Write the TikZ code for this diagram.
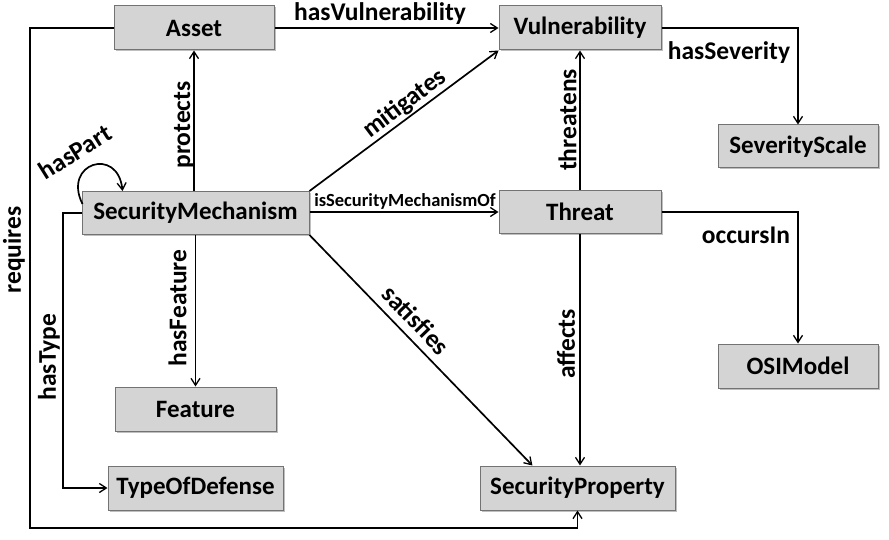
\documentclass[tikz,border=0pt]{standalone}
\usepackage{fontspec}
\setmainfont{Carlito}
\usetikzlibrary{arrows.meta,calc,shadows}
\tikzset{
  box/.style={draw={rgb,255:red,115;green,115;blue,115}, line width=1pt, fill={rgb,255:red,212;green,212;blue,212},
    inner sep=0pt, font=\fontsize{25}{28}\selectfont\bfseries,
    drop shadow={shadow xshift=1.5pt, shadow yshift=-1.5pt, fill=black, opacity=0.25}},
  lbl/.style={font=\fontsize{25.5}{28}\selectfont\bfseries, inner sep=0pt},
  smalllbl/.style={font=\fontsize{18.5}{21}\selectfont\bfseries, inner sep=0pt},
  conn/.style={line width=1.7pt, -{Straight Barb[length=7pt,width=9pt,line width=1.3pt]}},
}
\begin{document}
\begin{tikzpicture}[x=1pt,y=-1pt]
\useasboundingbox (0,0) rectangle (889,540);
\node[box, minimum width=160pt, minimum height=44pt] (asset) at (194,28) {Asset};
\node[box, minimum width=162pt, minimum height=44pt] (vul) at (580,28) {Vulnerability};
\node[box, minimum width=160pt, minimum height=43pt] (sev) at (798,146.5) {SeverityScale};
\node[box, minimum width=227pt, minimum height=43pt] (sm) at (195.5,213) {SecurityMechanism};
\node[box, minimum width=162pt, minimum height=43pt] (threat) at (580,212) {Threat};
\node[box, minimum width=161pt, minimum height=44pt] (feat) at (195.5,409) {Feature};
\node[box, minimum width=160pt, minimum height=44pt] (osi) at (798,366) {OSIModel};
\node[box, minimum width=175pt, minimum height=44pt] (tod) at (195.5,488) {TypeOfDefense};
\node[box, minimum width=195pt, minimum height=44pt] (sp) at (577.5,488) {SecurityProperty};

\coordinate (reqc) at (30,528);
\coordinate (htc) at (63,213);

% requires
\draw[conn] (asset.west) -| (reqc) -- (reqc -| sp.south) -- (sp.south);
% hasVulnerability
\draw[conn] (asset.east) -- (vul.west);
% protects
\draw[conn] (sm.north -| asset.south) -- (asset.south);
% mitigates
\draw[conn] (sm.north east) -- (vul.south west);
% isSecurityMechanismOf
\draw[conn] (sm.east |- threat.west) -- (threat.west);
% satisfies
\draw[conn] (sm.south east) -- ($(sp.north west)!0.27!(sp.north east)$);
% threatens
\draw[conn] (threat.north) -- (vul.south);
% affects
\draw[conn] (threat.south) -- (threat.south |- sp.north);
% hasSeverity
\draw[conn] (vul.east) -| (sev.north);
% occursIn
\draw[conn] (threat.east) -| (osi.north);
% hasFeature
\draw[conn] (sm.south) -- (feat.north);
% hasType
\draw[conn] (sm.west) -- (htc) |- (tod.west);
% hasPart
\draw[conn] ($(sm.north west)+(1,13)$) .. controls (62,163) and (118,146) .. ($(sm.north west)+(41,0)$);

% labels
\node[lbl, rotate=90] (lreq) at (14,250) {requires};
\node[lbl] (lhv) at (380,14) {hasVulnerability};
\node[lbl, rotate=90] (lprot) at (184,125) {protects};
\node[lbl, rotate=37] (lmit) at (405,104) {mitigates};
\node[smalllbl] (lisf) at (405,201) {isSecurityMechanismOf};
\node[lbl, rotate=-46] (lsat) at (416,320) {satisfies};
\node[lbl, rotate=90] (lthr) at (567.5,120) {threatens};
\node[lbl, rotate=90] (laff) at (566,344) {affects};
\node[lbl] (lsev) at (729,53) {hasSeverity};
\node[lbl] (locc) at (746,235) {occursIn};
\node[lbl, rotate=90] (lfeat) at (177.5,308) {hasFeature};
\node[lbl, rotate=90] (ltype) at (49,357) {hasType};
\node[lbl, rotate=32] (lpart) at (75,152) {hasPart};
\end{tikzpicture}
\end{document}
